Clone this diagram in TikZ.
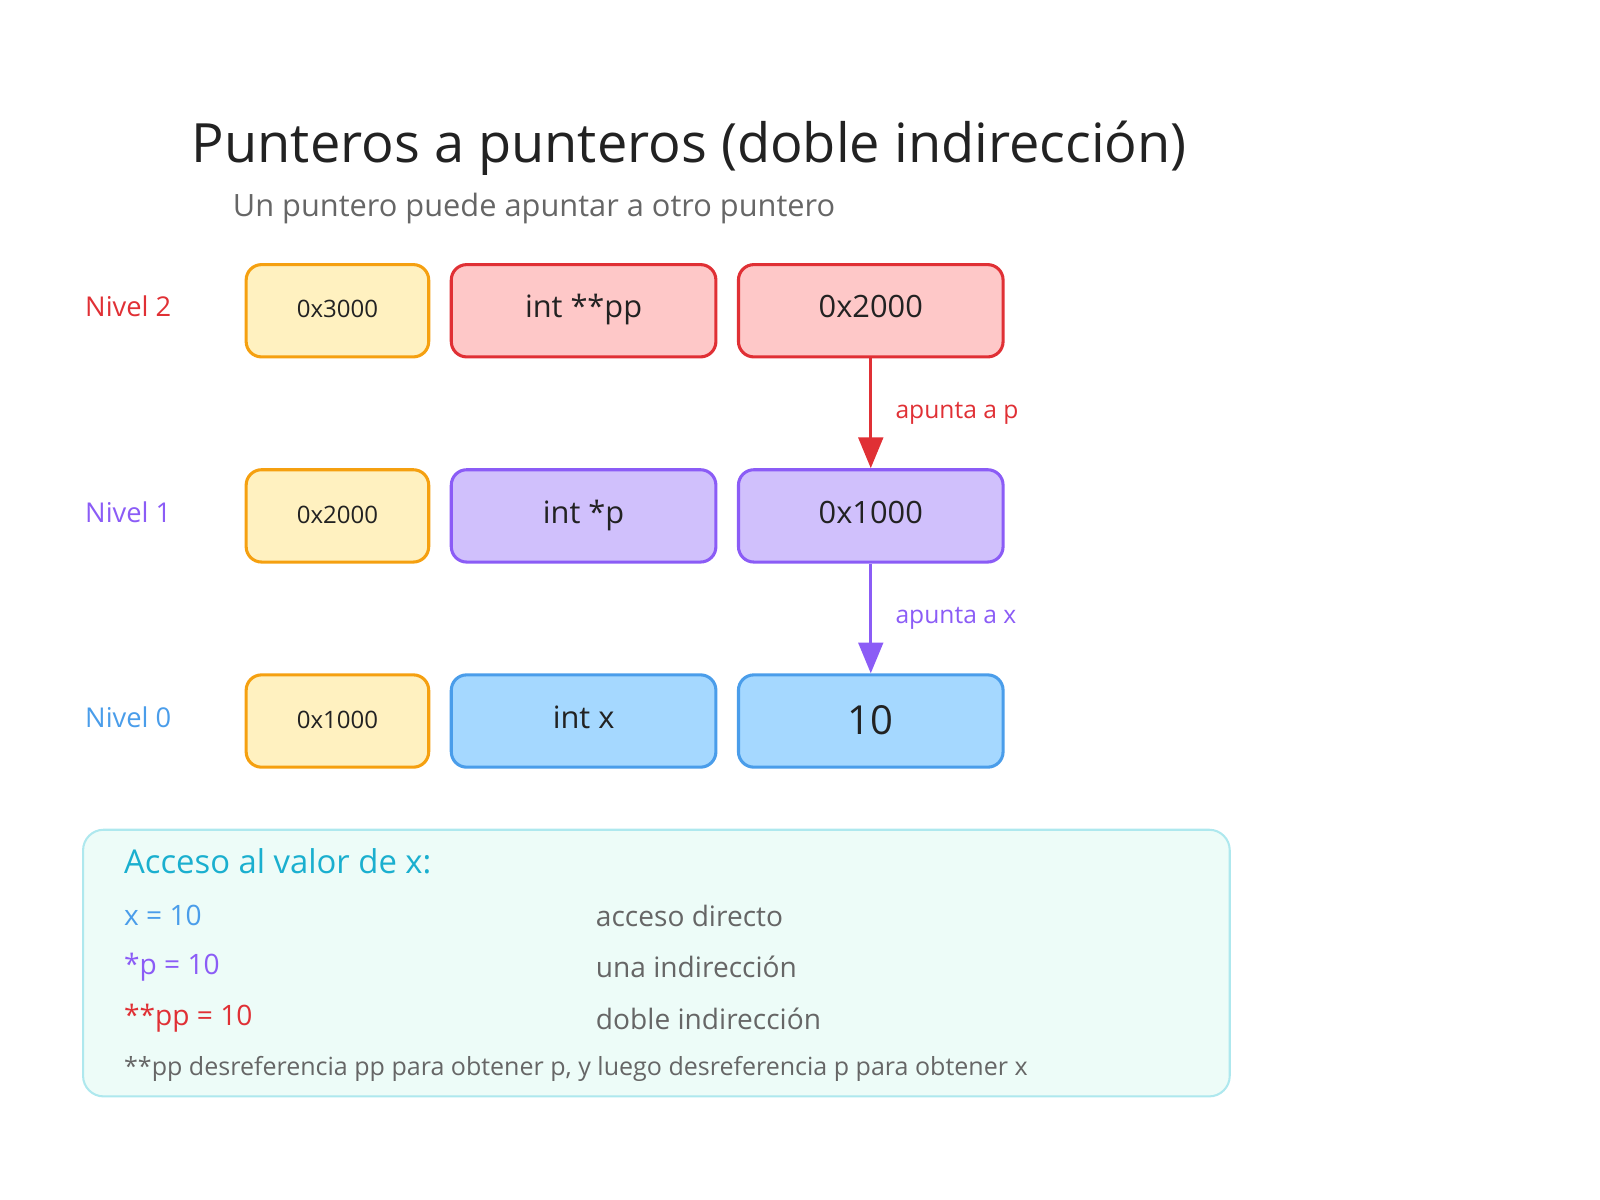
\documentclass[tikz,border=0pt]{standalone}
\usepackage{fontspec}
\setmainfont{Open Sans}
\usetikzlibrary{arrows.meta}
\definecolor{yf}{HTML}{FFF1C0}\definecolor{ys}{HTML}{F5A010}
\definecolor{rf}{HTML}{FEC8C8}\definecolor{rs}{HTML}{E03035}
\definecolor{pf}{HTML}{D0C0FC}\definecolor{ps}{HTML}{8B5CF6}
\definecolor{bf}{HTML}{A5D8FF}\definecolor{bs}{HTML}{4A9DEA}
\definecolor{nf}{HTML}{EDFCF8}\definecolor{ns}{HTML}{AEE8EE}
\definecolor{cy}{HTML}{1AAFCF}\definecolor{gr}{HTML}{666666}\definecolor{tx}{HTML}{222222}
\begin{document}
\begin{tikzpicture}[x=0.5pt,y=-0.5pt,
 box/.style={draw,line width=1.5pt,rounded corners=7.5pt,minimum height=45pt,text=tx,text height=10pt,text depth=3pt},
 addr/.style={box,fill=yf,draw=ys,minimum width=89pt,font=\fontsize{11.7}{14}\selectfont},
 mid/.style={box,minimum width=129pt,font=\fontsize{15}{18}\selectfont},
 lab/.style={anchor=west,font=\fontsize{13.3}{16}\selectfont},
 arr/.style={line width=1.5pt,-{Triangle[length=15pt,width=12pt]}},
 lft/.style={anchor=west,font=\fontsize{13.7}{17}\selectfont}]
\useasboundingbox (0,0) rectangle (1560,1170);
\node[anchor=base west,text=tx,font=\fontsize{26.4}{30}\selectfont] (title) at (180,158) {Punteros a punteros (doble indirección)};
\node[anchor=base west,text=gr,font=\fontsize{15}{18}\selectfont] (sub) at (220,211) {Un puntero puede apuntar a otro puntero};
% row 2
\node[lab,text=rs] (n2) at (76,299) {Nivel 2};
\node[addr] (a2) at (329,303) {0x3000};
\node[mid,fill=rf,draw=rs] (t2) at (569,303) {int **pp};
\node[mid,fill=rf,draw=rs] (v2) at (849,303) {0x2000};
% row 1
\node[lab,text=ps] (n1) at (76,499) {Nivel 1};
\node[addr] (a1) at (329,503) {0x2000};
\node[mid,fill=pf,draw=ps] (t1) at (569,503) {int *p};
\node[mid,fill=pf,draw=ps] (v1) at (849,503) {0x1000};
% row 0
\node[lab,text=bs] (n0) at (76,699) {Nivel 0};
\node[addr] (a0) at (329,703) {0x1000};
\node[mid,fill=bf,draw=bs] (t0) at (569,703) {int x};
\node[mid,fill=bf,draw=bs,font=\fontsize{19.5}{24}\selectfont,text height=14pt,text depth=1pt] (v0) at (849,703) {10};
\draw[arr,draw=rs,fill=rs] (v2) -- (v1) node[midway,right=8pt,text=rs,font=\fontsize{12}{14}\selectfont] (l2) {apunta a p};
\draw[arr,draw=ps,fill=ps] (v1) -- (v0) node[midway,right=8pt,text=ps,font=\fontsize{12}{14}\selectfont] (l1) {apunta a x};
% note
\node[draw=ns,fill=nf,line width=1pt,rounded corners=10pt,minimum width=559pt,minimum height=130pt,anchor=north west] (note) at (80,808) {};
\node[lft,text=cy,font=\fontsize{16}{19}\selectfont] (h) at (114,840) {Acceso al valor de x:};
\node[lft,text=bs] (e1) at (114,893) {x = 10};
\node[lft,text=ps] (e2) at (114,943) {*p = 10};
\node[lft,text=rs] (e3) at (114,993) {**pp = 10};
\node[lft,text=gr] (d1) at (574,893) {acceso directo};
\node[lft,text=gr] (d2) at (574,943) {una indirección};
\node[lft,text=gr] (d3) at (574,993) {doble indirección};
\node[lft,text=gr,font=\fontsize{12.2}{14}\selectfont] (f) at (114,1042) {**pp desreferencia pp para obtener p, y luego desreferencia p para obtener x};
\end{tikzpicture}
\end{document}
